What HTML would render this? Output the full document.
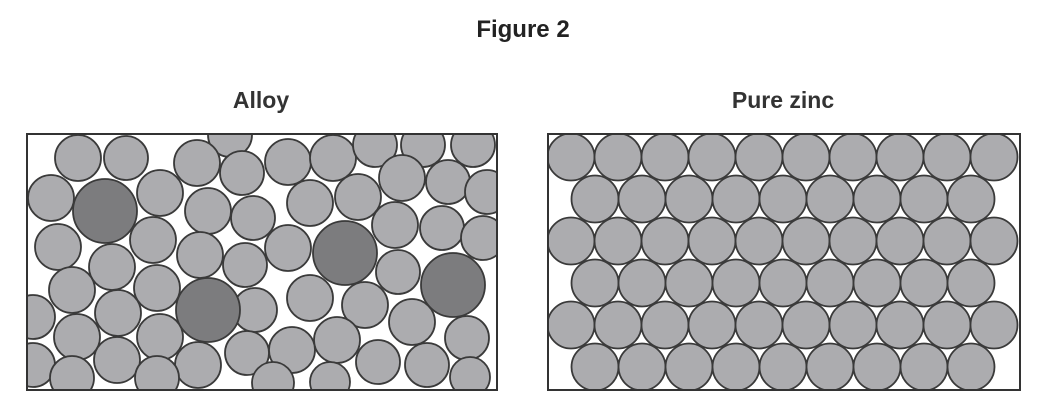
<!DOCTYPE html>
<html><head><meta charset="utf-8"><style>
html,body{margin:0;padding:0;background:#fff;}
svg{display:block;font-family:"Liberation Sans",Arial,sans-serif;}
</style></head><body>
<svg id="fig" width="1053" height="417" viewBox="0 0 1053 417">
<defs>
<clipPath id="ca"><rect x="27" y="134" width="470" height="256"/></clipPath>
<clipPath id="cz"><rect x="548" y="134" width="472" height="256"/></clipPath>
</defs>
<text x="523" y="37" text-anchor="middle" font-size="24" font-weight="bold" fill="#222">Figure 2</text>
<text x="261" y="108" text-anchor="middle" font-size="23" font-weight="bold" fill="#333">Alloy</text>
<text x="783" y="108" text-anchor="middle" font-size="23" font-weight="bold" fill="#333">Pure zinc</text>
<g id="alloy" clip-path="url(#ca)"></g>
<g id="zinc" clip-path="url(#cz)"></g>
<rect x="27" y="134" width="470" height="256" fill="none" stroke="#333" stroke-width="2"/>
<rect x="548" y="134" width="472" height="256" fill="none" stroke="#333" stroke-width="2"/>
</svg>
<script>
const alloyX=[78,126,230,197,242,51,160,208,253,58,153,112,200,245,72,157,33,118,77,160,255,117,198,247,33,72,157,288,333,375,423,473,402,448,487,310,358,395,442,483,288,398,310,365,412,337,292,467,378,427,470,330,273];
const alloyY=[158,158,135,163,173,198,193,211,218,247,240,267,255,265,290,288,317,313,337,337,310,360,365,353,365,378,378,162,158,145,145,145,178,182,192,203,197,225,228,238,248,272,298,305,322,340,350,338,362,365,377,382,383];
const alloyR=[23,22,22,23,22,23,23,23,22,23,23,23,23,22,23,23,22,23,23,23,22,23,23,22,22,22,22,23,23,22,22,22,23,22,22,23,23,23,22,22,23,22,23,23,23,23,23,22,22,22,20,20,21];
const darkX=[105,208,345,453];
const darkY=[211,310,253,285];
const darkR=[32,32,32,32];
const zincRows=[157,199,241,283,325,367];
const zincCountOdd=10, zincCountEven=9;
const NS="http://www.w3.org/2000/svg";
function circ(g,x,y,r,fill){
  const c=document.createElementNS(NS,'circle');
  c.setAttribute('cx',x);c.setAttribute('cy',y);c.setAttribute('r',r);
  c.setAttribute('fill',fill);c.setAttribute('stroke','#3a3a3a');c.setAttribute('stroke-width','1.8');
  g.appendChild(c);return c;
}
const ga=document.getElementById('alloy');
for(let i=0;i<alloyX.length;i++){
  const c=circ(ga,alloyX[i],alloyY[i],alloyR[i],'#acacaf');
  
  
}
for(let i=0;i<darkX.length;i++){
  const c=circ(ga,darkX[i],darkY[i],darkR[i],'#7c7c7e');
  
  
}
const gz=document.getElementById('zinc');
zincRows.forEach((y,ri)=>{
  const odd=ri%2===0;
  const n=odd?zincCountOdd:zincCountEven;
  const x0=odd?571:595;
  for(let k=0;k<n;k++){
    const c=circ(gz,x0+47*k,y,23.5,'#acacaf');
    
    
  }
});
</script>
</body></html>
